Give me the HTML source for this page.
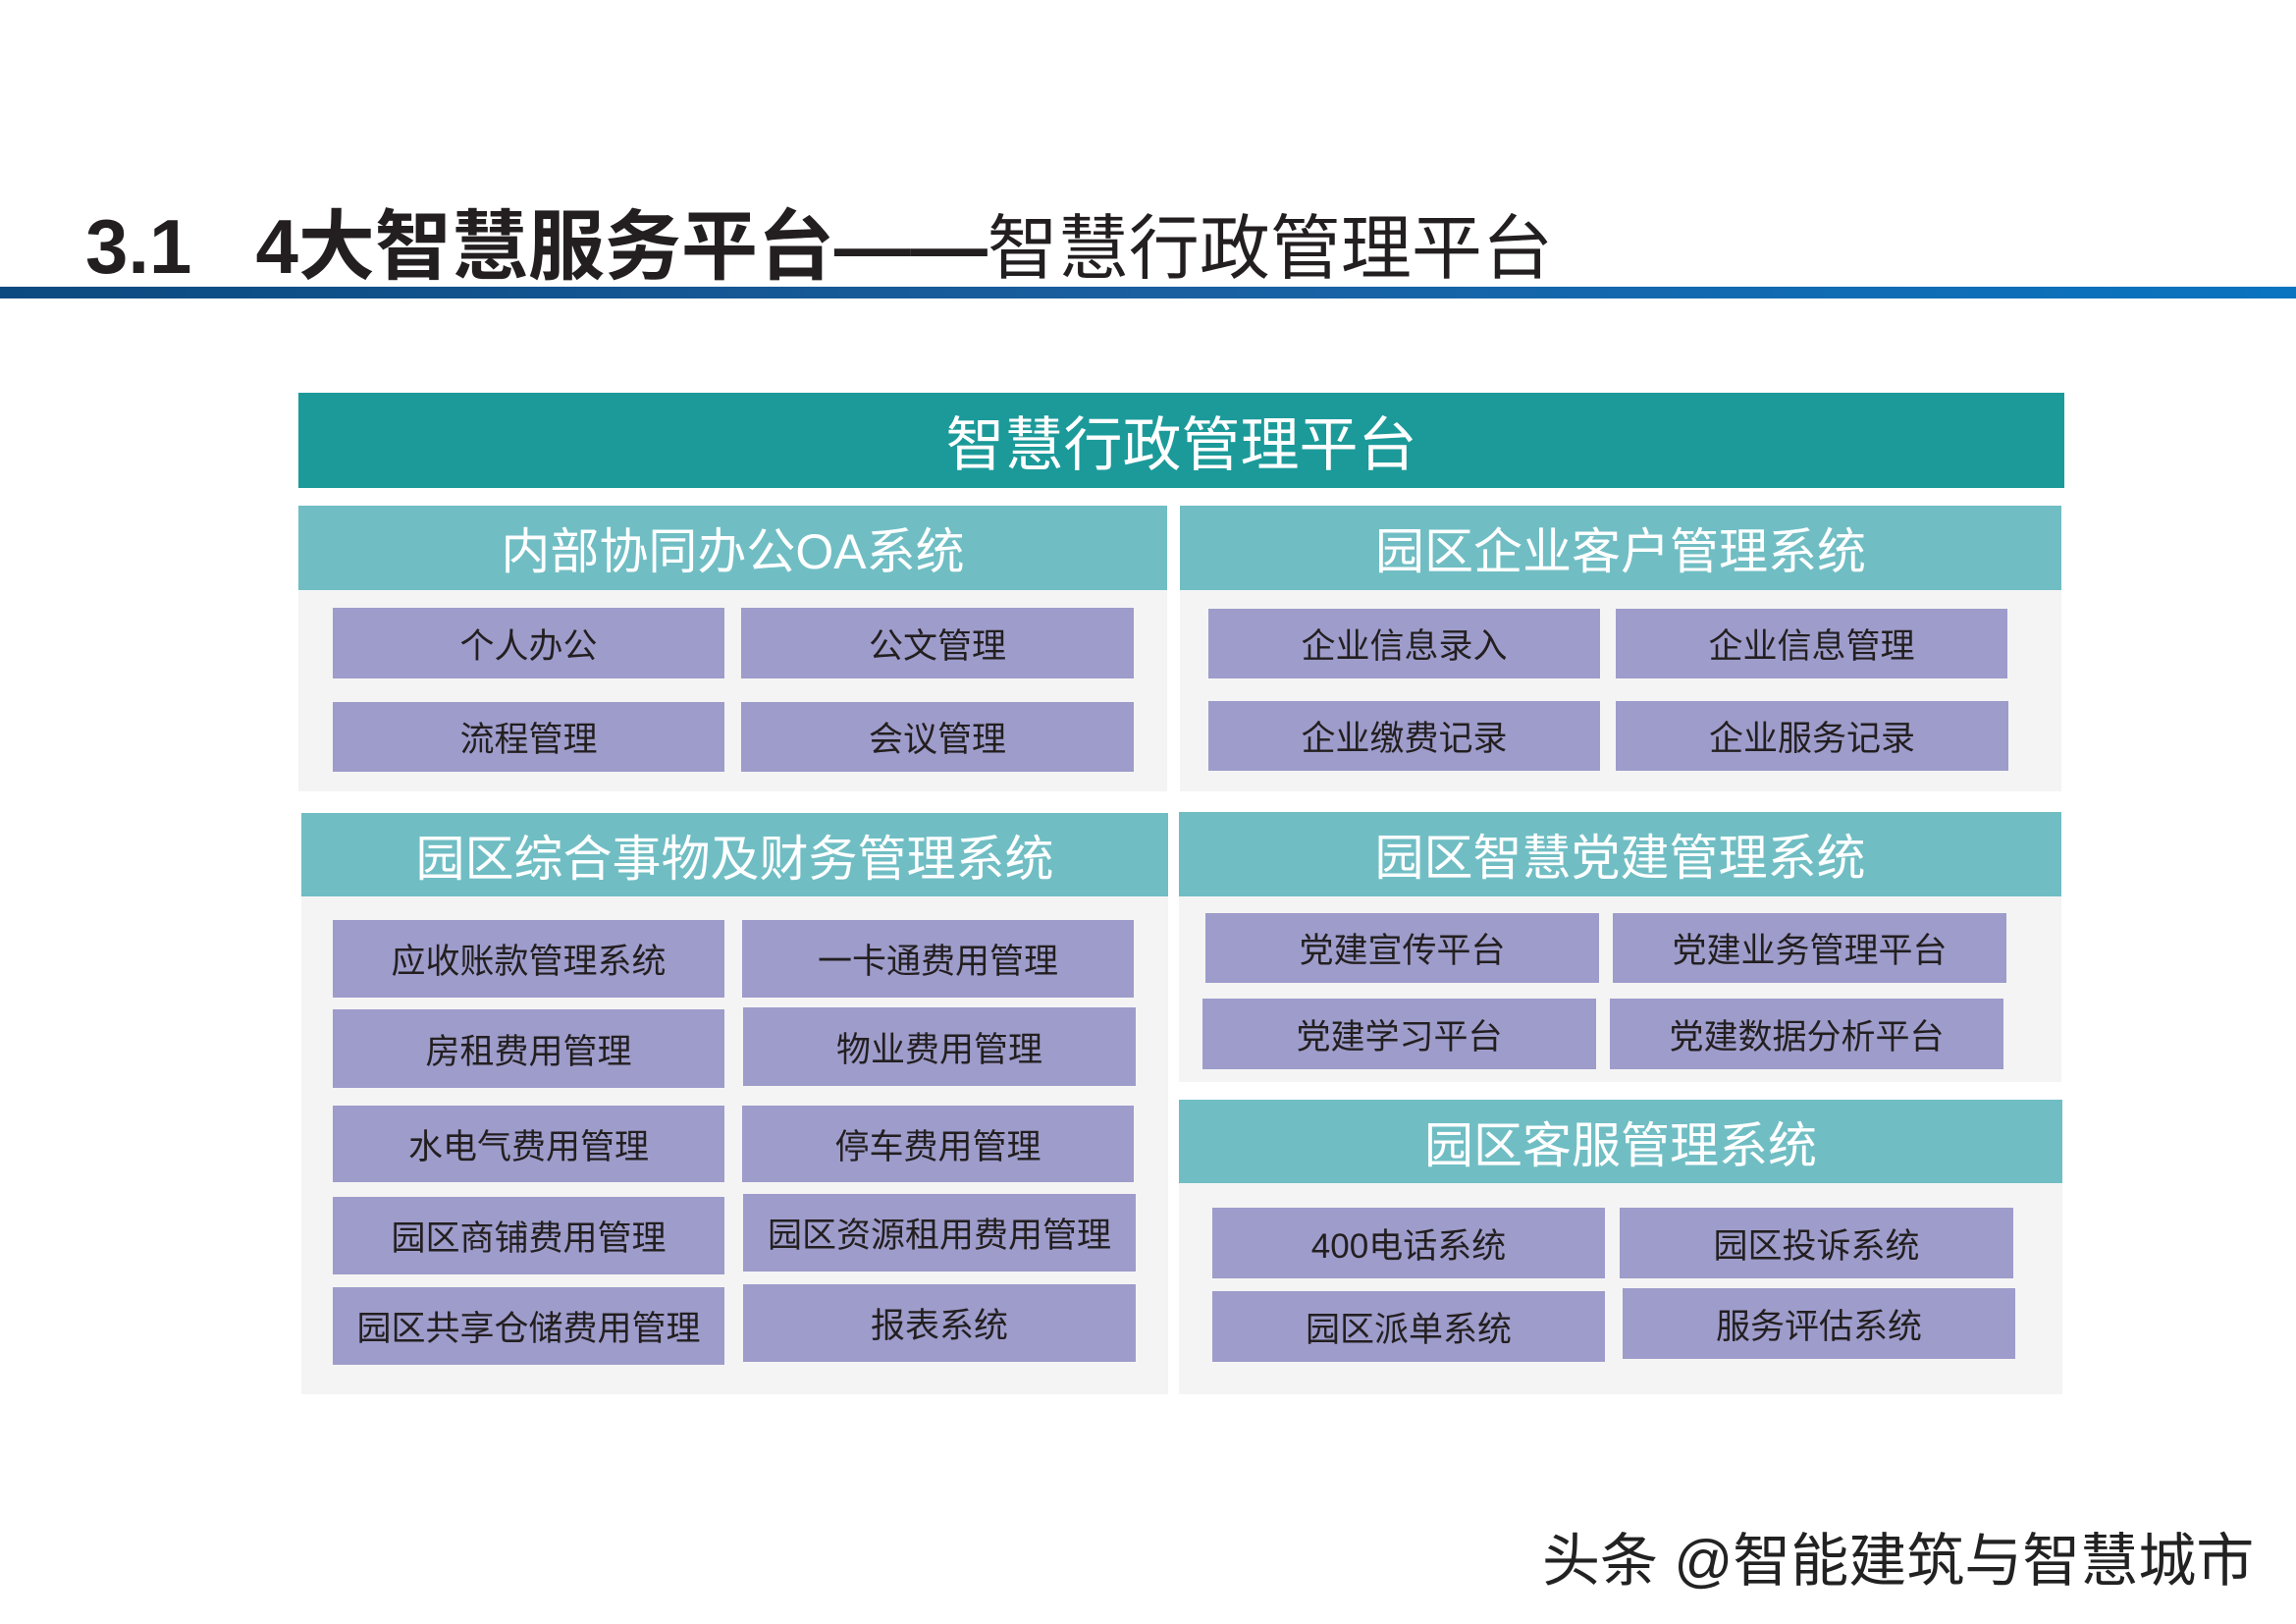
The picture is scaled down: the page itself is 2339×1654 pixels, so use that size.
<!DOCTYPE html>
<html><head><meta charset="utf-8"><style>
body{margin:0;width:2339px;height:1654px;background:#fff;position:relative;overflow:hidden;font-family:"Liberation Sans","Noto Sans CJK SC",sans-serif}
.a{position:absolute;display:flex;align-items:center;justify-content:center;white-space:nowrap}
.h{background:#70bec4;color:#fff;font-size:50px}
.g{background:#f4f4f4}
.i{background:#9e9ccb;color:#231f20;font-size:35px}
</style></head><body>
<div style="position:absolute;left:87px;top:206px;font-size:78px;font-weight:bold;color:#231f20;white-space:nowrap;line-height:90px">3.1&nbsp;&nbsp;&nbsp;4大智慧服务平台——<span style="font-weight:normal;font-size:72px">智慧行政管理平台</span></div>
<div style="position:absolute;left:0;top:292px;width:2339px;height:12px;background:linear-gradient(90deg,#0b4a80,#1a5fa0 50%,#0a74c0)"></div>
<div class="a" style="left:304px;top:400px;width:1799px;height:97px;background:#1c9a9a;color:#fff;font-size:60px">智慧行政管理平台</div>

<div class="a h" style="left:304px;top:515px;width:885px;height:86px">内部协同办公OA系统</div>
<div class="a g" style="left:304px;top:601px;width:885px;height:205px"></div>
<div class="a i" style="left:339px;top:619px;width:399px;height:72px">个人办公</div>
<div class="a i" style="left:755px;top:619px;width:400px;height:72px">公文管理</div>
<div class="a i" style="left:339px;top:715px;width:399px;height:71px">流程管理</div>
<div class="a i" style="left:755px;top:715px;width:400px;height:71px">会议管理</div>

<div class="a h" style="left:1202px;top:515px;width:898px;height:86px">园区企业客户管理系统</div>
<div class="a g" style="left:1202px;top:601px;width:898px;height:205px"></div>
<div class="a i" style="left:1231px;top:620px;width:399px;height:71px">企业信息录入</div>
<div class="a i" style="left:1646px;top:620px;width:399px;height:71px">企业信息管理</div>
<div class="a i" style="left:1231px;top:714px;width:399px;height:71px">企业缴费记录</div>
<div class="a i" style="left:1646px;top:714px;width:400px;height:71px">企业服务记录</div>

<div class="a h" style="left:307px;top:828px;width:883px;height:85px">园区综合事物及财务管理系统</div>
<div class="a g" style="left:307px;top:913px;width:883px;height:507px"></div>
<div class="a i" style="left:339px;top:937px;width:399px;height:79px">应收账款管理系统</div>
<div class="a i" style="left:756px;top:937px;width:399px;height:79px">一卡通费用管理</div>
<div class="a i" style="left:339px;top:1028px;width:399px;height:80px">房租费用管理</div>
<div class="a i" style="left:757px;top:1026px;width:400px;height:80px">物业费用管理</div>
<div class="a i" style="left:339px;top:1126px;width:399px;height:78px">水电气费用管理</div>
<div class="a i" style="left:756px;top:1126px;width:399px;height:78px">停车费用管理</div>
<div class="a i" style="left:339px;top:1219px;width:399px;height:79px">园区商铺费用管理</div>
<div class="a i" style="left:757px;top:1216px;width:400px;height:79px">园区资源租用费用管理</div>
<div class="a i" style="left:339px;top:1311px;width:399px;height:79px">园区共享仓储费用管理</div>
<div class="a i" style="left:757px;top:1308px;width:400px;height:79px">报表系统</div>

<div class="a h" style="left:1201px;top:827px;width:899px;height:86px">园区智慧党建管理系统</div>
<div class="a g" style="left:1201px;top:913px;width:899px;height:189px"></div>
<div class="a i" style="left:1228px;top:930px;width:401px;height:71px">党建宣传平台</div>
<div class="a i" style="left:1643px;top:930px;width:401px;height:71px">党建业务管理平台</div>
<div class="a i" style="left:1225px;top:1017px;width:401px;height:72px">党建学习平台</div>
<div class="a i" style="left:1640px;top:1017px;width:401px;height:72px">党建数据分析平台</div>

<div class="a h" style="left:1201px;top:1120px;width:900px;height:85px">园区客服管理系统</div>
<div class="a g" style="left:1201px;top:1205px;width:900px;height:215px"></div>
<div class="a i" style="left:1235px;top:1230px;width:400px;height:72px">400电话系统</div>
<div class="a i" style="left:1650px;top:1230px;width:401px;height:72px">园区投诉系统</div>
<div class="a i" style="left:1235px;top:1315px;width:400px;height:72px">园区派单系统</div>
<div class="a i" style="left:1653px;top:1312px;width:400px;height:72px">服务评估系统</div>

<div style="position:absolute;left:1571px;top:1542px;font-size:59px;color:#222;white-space:nowrap;text-shadow:0 0 3px #fff,2px 2px 0 #fff">头条 @智能建筑与智慧城市</div>
</body></html>
